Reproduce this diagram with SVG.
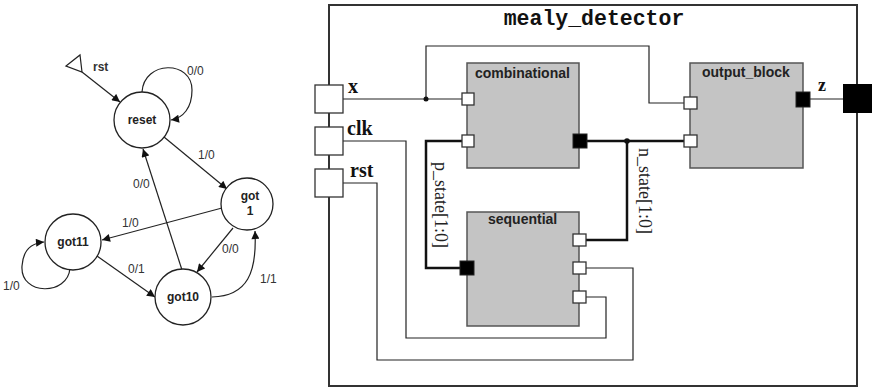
<svg xmlns="http://www.w3.org/2000/svg" width="877" height="388" viewBox="0 0 877 388">
<style>
.st{fill:#fff;stroke:#222;stroke-width:1.3}
.e{fill:none;stroke:#222;stroke-width:1.2}
.sl{font-family:"Liberation Sans",Arial,sans-serif;font-weight:bold;font-size:12px;fill:#222;text-anchor:middle}
.el{font-family:"Liberation Sans",Arial,sans-serif;font-size:12px;fill:#333}
.w{fill:none;stroke:#222;stroke-width:1.2}
.bus{fill:none;stroke:#111;stroke-width:2.5}
.blk{fill:#c4c4c4;stroke:#555;stroke-width:1.5}
.bl{font-family:"Liberation Sans",Arial,sans-serif;font-weight:bold;font-size:14px;fill:#222}
.pi{fill:#fff;stroke:#333;stroke-width:1.3}
.po{fill:#000;stroke:#222;stroke-width:1}
.pl{font-family:"Liberation Serif","Times New Roman",serif;font-weight:bold;font-size:20px;fill:#111}
.sig{font-family:"Liberation Serif","Times New Roman",serif;font-size:18px;fill:#222}
</style>
<defs>
<marker id="ah" viewBox="0 0 10 10" refX="10" refY="5" markerWidth="9" markerHeight="8" markerUnits="userSpaceOnUse" orient="auto">
<path d="M0,0 L10,5 L0,10 z" fill="#111"/>
</marker>
</defs>
<rect width="877" height="388" fill="#fff"/>

<!-- State diagram -->
<g id="edges">
<path class="e" d="M82,72 L120,102" marker-end="url(#ah)"/>
<path class="e" d="M142,92 C144,60 192,60 192,90 C192,108 183,118 171,120" marker-end="url(#ah)"/>
<path class="e" d="M164,137 L227,189" marker-end="url(#ah)"/>
<path class="e" d="M182,270 L143,149" marker-end="url(#ah)"/>
<path class="e" d="M222,208 L102,240" marker-end="url(#ah)"/>
<path class="e" d="M233,228 L197,272" marker-end="url(#ah)"/>
<path class="e" d="M97,256 L155,297" marker-end="url(#ah)"/>
<path class="e" d="M212,297 C248,296 257,272 255,231" marker-end="url(#ah)"/>
<path class="e" d="M70,268 C68,296 20,296 22,266 C23,250 32,243 44,242" marker-end="url(#ah)"/>
<text class="el" x="93" y="71" style="font-weight:bold">rst</text>
<text class="el" x="187" y="75">0/0</text>
<text class="el" x="198" y="159">1/0</text>
<text class="el" x="133" y="188">0/0</text>
<text class="el" x="122" y="227">1/0</text>
<text class="el" x="222" y="253">0/0</text>
<text class="el" x="128" y="273">0/1</text>
<text class="el" x="260" y="283">1/1</text>
<text class="el" x="3" y="290">1/0</text>
</g>
<g id="rst_in"><polygon points="66,66 80,55 82,72" fill="#fff" stroke="#222" stroke-width="1.2"/></g>
<g id="s_reset"><circle class="st" cx="142" cy="120" r="28"/><text class="sl" x="142" y="124">reset</text></g>
<g id="s_got1"><circle class="st" cx="247" cy="204" r="26"/><text class="sl" x="250" y="200">got</text><text class="sl" x="250" y="215">1</text></g>
<g id="s_got11"><circle class="st" cx="73" cy="242" r="28"/><text class="sl" x="73" y="246">got11</text></g>
<g id="s_got10"><circle class="st" cx="183" cy="297" r="28"/><text class="sl" x="183" y="301">got10</text></g>

<!-- Block diagram -->
<g id="mealy_detector">
<rect x="329" y="5" width="528" height="381" fill="none" stroke="#333" stroke-width="2"/>
<text x="594" y="25" text-anchor="middle" style="font-family:'Liberation Mono','Courier New',monospace;font-weight:bold;font-size:21.5px;fill:#111">mealy_detector</text>
</g>
<g id="wires">
<path class="w" d="M343,99 H462"/>
<path class="w" d="M426,99 V46 H649 V103 H684"/>
<circle cx="426" cy="99" r="2.5" fill="#111"/>
<path class="w" d="M343,141 H406 V338 H606 V297 H586"/>
<path class="w" d="M343,183 H377 V360 H633 V268 H586"/>
<path class="bus" d="M587,141 H684"/>
<path class="bus" d="M627,141 V240 H586"/>
<circle cx="627" cy="141" r="2.8" fill="#111"/>
<path class="bus" d="M462,141 H426 V268 H460"/>
<path class="w" d="M810,99 H843"/>
<text class="sig" transform="translate(435,162) rotate(90)">p_state[1:0]</text>
<text class="sig" transform="translate(639,148) rotate(90)">n_state[1:0]</text>
</g>
<g id="port_x"><rect class="pi" x="315" y="85" width="28" height="28"/><text class="pl" x="348" y="93">x</text></g>
<g id="port_clk"><rect class="pi" x="315" y="127" width="28" height="28"/><text class="pl" x="347" y="135">clk</text></g>
<g id="port_rst"><rect class="pi" x="315" y="169" width="28" height="28"/><text class="pl" x="350" y="177">rst</text></g>
<g id="port_z"><rect x="843" y="84" width="29" height="29" fill="#000"/><text class="pl" x="818" y="91" style="font-size:18px">z</text></g>
<g id="combinational">
<rect class="blk" x="467" y="63" width="112" height="105"/>
<text class="bl" x="475" y="78">combinational</text>
<rect class="pi" x="462" y="93" width="12" height="12"/>
<rect class="pi" x="462" y="135" width="12" height="12"/>
<rect class="po" x="573" y="134" width="14" height="14"/>
</g>
<g id="output_block">
<rect class="blk" x="690" y="63" width="113" height="105"/>
<text class="bl" x="702" y="77">output_block</text>
<rect class="pi" x="684" y="97" width="13" height="12"/>
<rect class="pi" x="684" y="135" width="13" height="12"/>
<rect class="po" x="796" y="92" width="14" height="15"/>
</g>
<g id="sequential">
<rect class="blk" x="467" y="212" width="112" height="114"/>
<text class="bl" x="488" y="224">sequential</text>
<rect class="po" x="460" y="261" width="14" height="14"/>
<rect class="pi" x="573" y="234" width="13" height="12"/>
<rect class="pi" x="573" y="262" width="13" height="12"/>
<rect class="pi" x="573" y="291" width="13" height="12"/>
</g>
</svg>
